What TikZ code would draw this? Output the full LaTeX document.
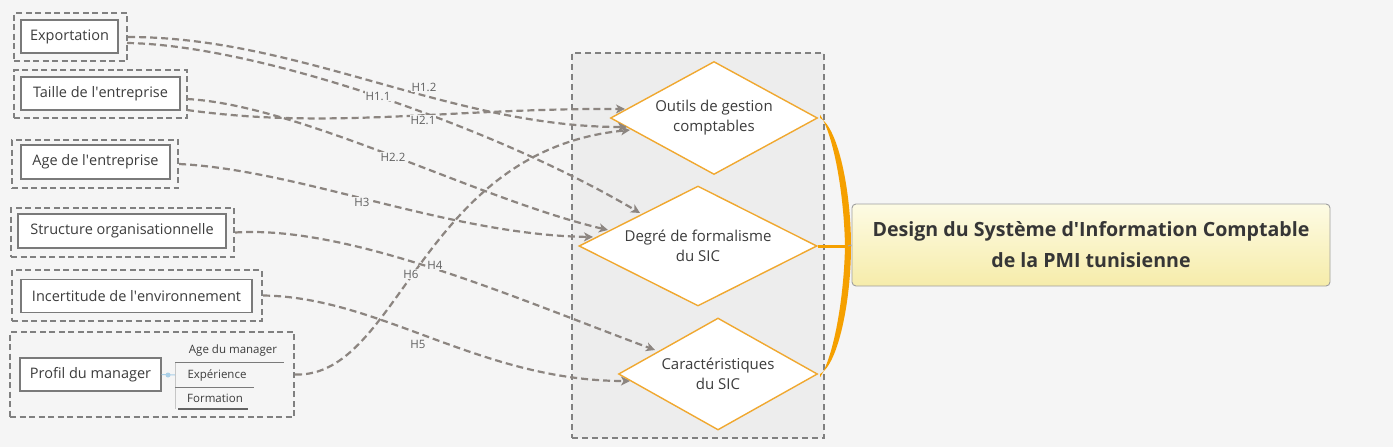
\documentclass[tikz,border=0pt]{standalone}
\usepackage{fontspec}
\setmainfont{Open Sans}
\usetikzlibrary{shapes.geometric,arrows.meta}
\definecolor{bg}{RGB}{245,245,245}
\definecolor{grpfill}{RGB}{237,237,237}
\definecolor{dashgray}{RGB}{128,128,128}
\definecolor{boxgray}{RGB}{122,122,122}
\definecolor{txt}{RGB}{60,60,60}
\definecolor{conncol}{RGB}{140,133,128}
\definecolor{labcol}{RGB}{95,95,95}
\definecolor{orangeb}{RGB}{240,168,48}
\definecolor{orangebr}{RGB}{245,160,0}
\definecolor{maintop}{RGB}{253,251,228}
\definecolor{mainbot}{RGB}{246,236,170}
\definecolor{dotblue}{RGB}{170,208,232}
\newcommand{\apo}{\textquotesingle}
\begin{document}
\begin{tikzpicture}[x=1pt,y=-1pt,
  outerbox/.style={draw=dashgray, line width=2.2pt, dash pattern=on 6pt off 3.5pt, inner sep=0pt},
  innerbox/.style={draw=boxgray, fill=white, line width=1.4pt, inner sep=0pt, text=txt, font=\fontsize{14.5}{17}\selectfont},
  dia/.style={diamond, draw=orangeb, fill=white, line width=1.4pt, inner sep=0pt, align=center, text=txt, font=\fontsize{15}{20}\selectfont},
  conn/.style={draw=conncol, line width=2.2pt, dash pattern=on 7pt off 4pt, -{Stealth[length=9pt,width=9pt,inset=2.5pt]}},
  hlab/.style={fill=bg, inner sep=1pt, text=labcol, font=\fontsize{11.5}{13}\selectfont},
  subitem/.style={inner sep=0pt, text=txt, font=\fontsize{11.5}{13}\selectfont}
]
\useasboundingbox[fill=bg] (0,0) rectangle (1393,447);

% central group
\node[draw=dashgray, fill=grpfill, line width=2pt, dash pattern=on 6pt off 4pt, inner sep=0pt,
      minimum width=252pt, minimum height=385pt] (grp) at (698,245.5) {};

% left outer boxes
\node[outerbox, minimum width=113pt, minimum height=48pt] (expo) at (70.5,37) {};
\node[outerbox, minimum width=173pt, minimum height=48pt] (taille) at (100.5,94) {};
\node[outerbox, minimum width=166pt, minimum height=48pt] (age) at (95,164) {};
\node[outerbox, minimum width=223pt, minimum height=49pt] (struct) at (122.5,232.5) {};
\node[outerbox, minimum width=250pt, minimum height=51pt] (incert) at (137,295.5) {};
\node[outerbox, minimum width=284pt, minimum height=85pt] (profil) at (152,374.5) {};

% inner boxes
\node[innerbox, minimum width=97pt, minimum height=33pt] (expoi) at (69.5,36.5) {Exportation};
\node[innerbox, minimum width=159pt, minimum height=33pt] (taillei) at (100.5,93.5) {Taille de l\apo entreprise};
\node[innerbox, minimum width=149pt, minimum height=34pt] (agei) at (95.5,162) {Age de l\apo entreprise};
\node[innerbox, minimum width=208pt, minimum height=34pt] (structi) at (122,231) {Structure organisationnelle};
\node[innerbox, minimum width=231pt, minimum height=33pt] (incerti) at (136.5,296) {Incertitude de l\apo environnement};
\node[innerbox, minimum width=141pt, minimum height=33pt] (profili) at (90.5,374.5) {Profil du manager};

% manager sub items
\coordinate (brk) at (175,375);
\draw[dotblue, line width=1pt] (profili.east) -- (brk);
\fill[dotblue] (168,375) circle (2.5pt);
\draw[gray!45, line width=1pt] (175,362) -- (175,409);
\node[subitem] (s1) at (233,351) {Age du manager};
\node[subitem] (s2) at (217,375) {Expérience};
\node[subitem] (s3) at (215,398) {Formation};
\draw[boxgray, line width=1pt] (175,362) -- (284,362);
\draw[boxgray, line width=1pt] (175,387) -- (254,387);
\draw[txt!80, line width=1.6pt] (178,409) -- (248,409);

% diamonds
\node[dia, shape aspect=1.83, minimum width=207pt, minimum height=113pt] (d1) at (714,118) {Outils de gestion\\comptables};
\node[dia, shape aspect=1.98, minimum width=238pt, minimum height=120pt] (d2) at (698,246) {Degré de formalisme\\du SIC};
\node[dia, shape aspect=1.78, minimum width=199pt, minimum height=112pt] (d3) at (718,374) {Caractéristiques\\du SIC};

% main node
\node[draw=gray!75, line width=0.9pt, rounded corners=4pt, top color=maintop, bottom color=mainbot,
      minimum width=478pt, minimum height=82pt, inner sep=0pt, align=center, text=txt!90!black,
      font=\bfseries\fontsize{19.6}{31}\selectfont] (main) at (1091,245)
  {Design du Système d\apo Information Comptable\\de la PMI tunisienne};

% arrow targets on diamond borders
\coordinate (c21) at (625,109);
\coordinate (c12) at (627,127);
\coordinate (c6) at (630,130);
\coordinate (c11) at (640,213);
\coordinate (c22) at (608,230);
\coordinate (c3) at (593,237);
\coordinate (c4) at (655,350);
\coordinate (c5) at (630,381);
\coordinate (e11) at (127,43);
\coordinate (t21) at (187,110);
\coordinate (t22) at (187,99);

% connectors
\draw[conn] (expo.east) .. controls (300,37) and (450,127) .. (c12);
\draw[conn] (e11) .. controls (260,45) and (500,130) .. (c11);
\draw[conn] (t21) .. controls (330,130) and (450,108) .. (c21);
\draw[conn] (t22) .. controls (300,105) and (480,200) .. (c22);
\draw[conn] (age.east) .. controls (300,170) and (450,235) .. (c3);
\draw[conn] (struct.east) .. controls (350,225) and (520,300) .. (c4);
\draw[conn] (incert.east) .. controls (380,297) and (480,381) .. (c5);
\draw[conn] (profil.east) .. controls (400,378) and (420,150) .. (c6);

% labels
\node[hlab] (l12) at (424,87) {H1.2};
\node[hlab] (l11) at (378,96) {H1.1};
\node[hlab] (l21) at (423,120) {H2.1};
\node[hlab] (l22) at (393,157) {H2.2};
\node[hlab] (l3) at (362,202) {H3};
\node[hlab] (l4) at (435,265) {H4};
\node[hlab] (l6) at (411,274) {H6};
\node[hlab] (l5) at (418,344) {H5};

% orange brace
\coordinate (jn) at (848,246);
\fill[orangebr] ([xshift=2pt]d1.east) .. controls (838,128) and (851,190) .. (851,246)
   -- (845,246) .. controls (844,195) and (834,136) .. ([xshift=2pt,yshift=3pt]d1.east) -- cycle;
\fill[orangebr] ([xshift=2pt]d3.east) .. controls (838,364) and (851,302) .. (851,246)
   -- (845,246) .. controls (844,297) and (834,356) .. ([xshift=2pt,yshift=-3pt]d3.east) -- cycle;
\draw[orangebr, line width=3pt] (d2.east) -- (jn);
\draw[gray!70, line width=1pt] (jn) -- (main.west);
\end{tikzpicture}
\end{document}
